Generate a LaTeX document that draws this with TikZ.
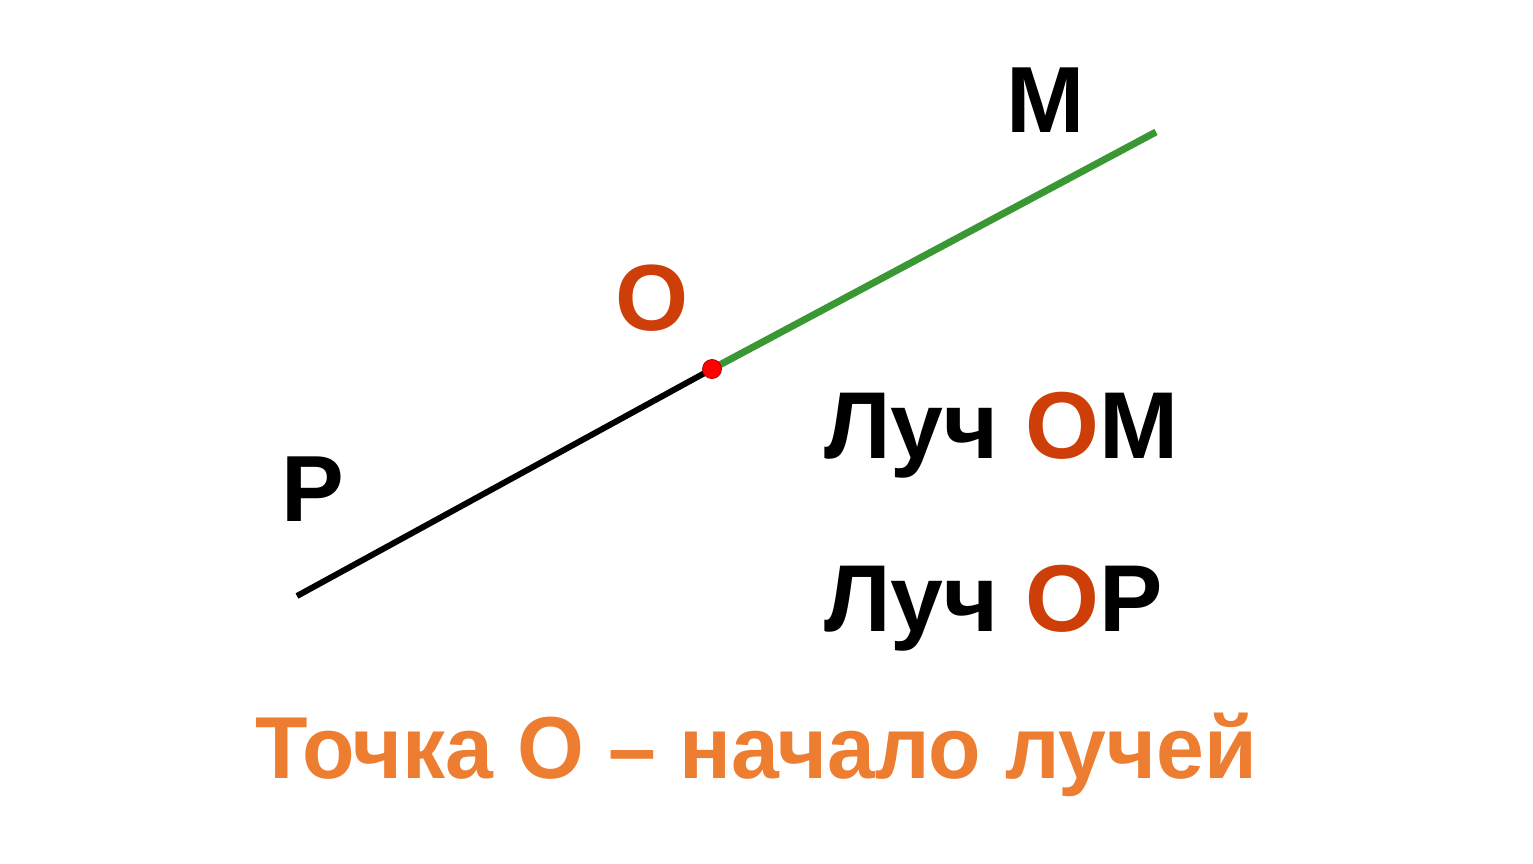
\documentclass[tikz,border=0pt]{standalone}
\usepackage{fontspec}
\setmainfont{Liberation Sans}
\definecolor{ored}{RGB}{206,62,8}
\definecolor{obot}{RGB}{237,125,49}
\definecolor{rgreen}{RGB}{58,152,52}
\begin{document}
\begin{tikzpicture}[x=1pt,y=-1pt,
  lbl/.style={inner sep=0pt,anchor=base west,font=\fontsize{94}{100}\selectfont\bfseries},
  ray/.style={line width=6pt}]
\useasboundingbox (0,0) rectangle (1533,864);
\coordinate (P) at (297,596);
\coordinate (O) at (712,369);
\coordinate (M) at (1156,132);
\draw[ray,black] (P) -- (O);
\draw[ray,rgreen,line width=7pt] (O) -- (M);
\node[circle,fill=red,draw=red!70!black,line width=0.8pt,minimum size=19pt,inner sep=0pt] (dot) at (O) {};
\node[lbl] (lM) at (1006,132) {М};
\node[lbl,text=ored] (lO) at (615,330) {О};
\node[lbl] (lP) at (281,521) {Р};
\node[lbl,font=\fontsize{95}{100}\selectfont\bfseries] (r1) at (824,458) {Луч \textcolor{ored}{О}М};
\node[lbl,font=\fontsize{95}{100}\selectfont\bfseries] (r2) at (824,631) {Луч \textcolor{ored}{О}Р};
\node[lbl,text=obot,font=\fontsize{88}{90}\selectfont\bfseries] (bot) at (255,778) {\scalebox{0.977}[1]{Точка О – начало лучей}};
\end{tikzpicture}
\end{document}
